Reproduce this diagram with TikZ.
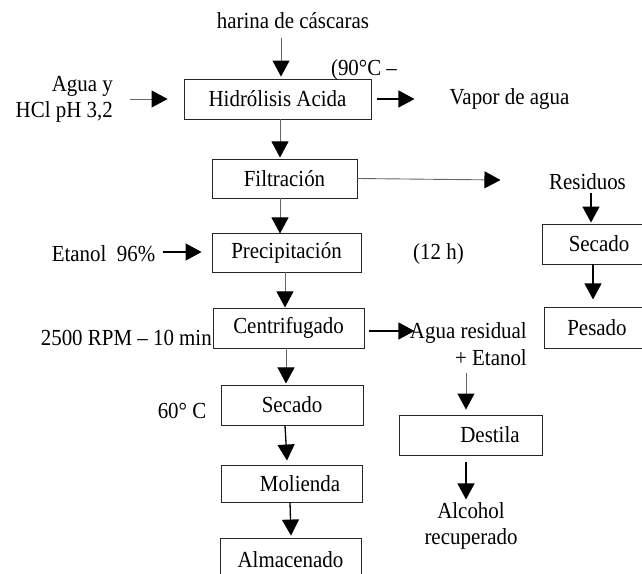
\documentclass[tikz,border=0pt]{standalone}
\usepackage{fontspec}
\setmainfont{Liberation Serif}[FakeStretch=0.91]
\usetikzlibrary{arrows.meta}
\begin{document}
\begin{tikzpicture}[x=1pt,y=-1pt,
  every node/.style={font=\fontsize{23}{25.5}\selectfont, inner sep=0pt},
  procbox/.style={draw=black!85, line width=0.9pt, align=center},
  arr/.style={draw=black!60, line width=0.9pt, -{Triangle[length=16pt,width=17pt,black]}},
  arrb/.style={draw=black, line width=1.3pt, -{Triangle[length=16pt,width=17pt,black]}}]
\useasboundingbox (0,0) rectangle (642,573);
\clip (0,0) rectangle (642,573);
% boxes
\node[procbox, minimum width=187pt, minimum height=40pt] (h1) at (277.5,99) {Hidrólisis Acida};
\node[procbox, minimum width=145pt, minimum height=39pt] (filt) at (284.5,178.5) {Filtración};
\node[procbox, minimum width=149pt, minimum height=39pt] (prec) at (286.5,252.5) {Precipitación};
\node[procbox, minimum width=151pt, minimum height=40pt] (cent) at (288.5,328) {Centrifugado};
\node[procbox, minimum width=142pt, minimum height=40pt] (sec) at (292,405) {Secado};
\node[procbox, minimum width=141pt, minimum height=37pt] (mol) at (291.5,483.5) {\hspace*{17pt}Molienda};
\node[procbox, minimum width=141pt, minimum height=44pt] (alm) at (290.5,560) {Almacenado};
\node[procbox, minimum width=114pt, minimum height=40pt] (sec2) at (599,244) {Secado};
\node[procbox, minimum width=106pt, minimum height=41pt] (pes) at (597,327.5) {Pesado};
\node[procbox, minimum width=143pt, minimum height=40pt] (dest) at (470.5,435) {\hspace*{39pt}Destila};
% texts
\node (harina) at (293,21) {harina de cáscaras};
\node[anchor=east, align=right] (agua) at (113,99.5) {Agua y\\HCl pH 3,2};
\node (t90) at (364,70) {(90°C \textendash};
\node (vapor) at (509.5,99) {Vapor de agua};
\node (resid) at (587.5,182) {Residuos};
\node (etanol) at (103.5,254) {Etanol\ \ 96\%};
\node (t12) at (438.5,254) {(12 h)};
\node[anchor=east] (rpm) at (212,338) {2500 RPM \textendash\ 10 min};
\node[anchor=east, align=right, font=\fontsize{23}{27}\selectfont] (aguares) at (527,344.5) {Agua residual\\+ Etanol};
\node (t60) at (182,411) {60° C};
\node[align=center, font=\fontsize{23}{26}\selectfont] (alcohol) at (471,526) {Alcohol\\recuperado};
% connectors
\draw[arr] ([xshift=3.5pt,yshift=41pt]h1.north) -- ([xshift=3.5pt,yshift=2pt]h1.north);
\draw[arr] ([xshift=-54pt]h1.west) -- ([xshift=-16pt]h1.west);
\draw[arrb] ([xshift=6pt]h1.east) -- ([xshift=43pt]h1.east);
\draw[arr] ([xshift=2.5pt]h1.south) -- ([xshift=2.5pt,yshift=-38pt]h1.south);
\draw[arr] (filt.east) -- ([xshift=143pt,yshift=-1.5pt]filt.east);
\draw[arrb] ([xshift=-8pt,yshift=31pt]sec2.north) -- ([xshift=-8pt,yshift=1pt]sec2.north);
\draw[arrb] ([xshift=-6pt]sec2.south) -- ([xshift=-6pt,yshift=-35pt]sec2.south);
\draw[arr] ([xshift=-4.5pt]filt.south) -- ([xshift=-4.5pt,yshift=-35pt]filt.south);
\draw[arrb] ([xshift=-49pt,yshift=0.5pt]prec.west) -- ([xshift=-10pt,yshift=0.5pt]prec.west);
\draw[arr] ([xshift=-1.5pt]prec.south) -- ([xshift=-1.5pt,yshift=-35pt]prec.south);
\draw[arrb] ([xshift=5pt,yshift=-3pt]cent.east) -- ([xshift=50pt,yshift=-3pt]cent.east);
\draw[arr] ([xshift=-2.5pt]cent.south) -- ([xshift=-2.5pt,yshift=-35pt]cent.south);
\draw[arrb] ([xshift=-7pt]sec.south) -- ([xshift=-4.5pt,yshift=4pt]mol.north);
\draw[arrb] ([xshift=-1.5pt]mol.south) -- ([xshift=0.5pt,yshift=2pt]alm.north);
\draw[arr] ([xshift=-4.5pt,yshift=42pt]dest.north) -- ([xshift=-4.5pt,yshift=5pt]dest.north);
\draw[arrb] ([xshift=-4.5pt,yshift=-7pt]dest.south) -- ([xshift=-4.5pt,yshift=-44pt]dest.south);
\end{tikzpicture}
\end{document}
